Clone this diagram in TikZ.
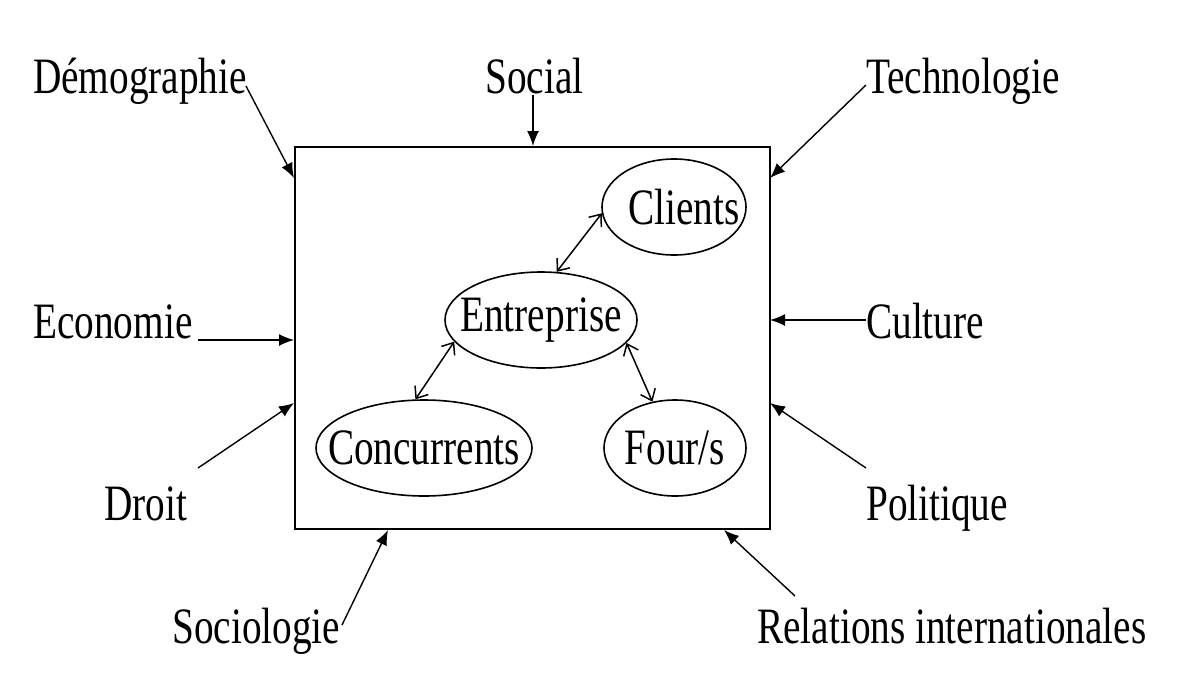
\documentclass[tikz,border=0pt]{standalone}
\usepackage{fontspec}
\setmainfont{Liberation Serif}[FakeStretch=0.77]
\usetikzlibrary{shapes.geometric,arrows.meta}
\begin{document}
\begin{tikzpicture}[x=1pt,y=-1pt,
  lbl/.style={inner sep=0pt,anchor=base west,font=\fontsize{51}{60}\selectfont},
  ell/.style={draw,line width=1.6pt,ellipse,inner xsep=-30pt,inner ysep=0pt,font=\fontsize{51}{60}\selectfont},
  inarrow/.style={-{Latex[length=15pt,width=12pt]},line width=1.4pt},
  dbl/.style={{Straight Barb[length=10pt,width=16pt,line width=1.5pt]}-{Straight Barb[length=10pt,width=16pt,line width=1.5pt]},line width=1.5pt}]
\useasboundingbox (0,0) rectangle (1200,675);
% box
\node[draw,line width=1.8pt,minimum width=475pt,minimum height=382pt,inner sep=0pt,anchor=north west] (box) at (294,146) {};
% labels
\node[lbl] (demo) at (33,93) {Démographie};
\node[lbl] (soc) at (485,93) {Social};
\node[lbl] (tech) at (866,93) {Technologie};
\node[lbl] (eco) at (33,338) {Economie};
\node[lbl] (cul) at (866,338) {Culture};
\node[lbl] (droit) at (104,520) {Droit};
\node[lbl] (pol) at (866,520) {Politique};
\node[lbl] (sociol) at (172,643) {Sociologie};
\node[lbl] (rel) at (757,643) {Relations internationales};
% arrow coordinates
\coordinate (s1) at (246,86);  \coordinate (e1) at (294,178);
\coordinate (s2) at (533,95);  \coordinate (e2) at (533,146);
\coordinate (s3) at (866,85);  \coordinate (e3) at (770,178);
\coordinate (s4) at (198,340); \coordinate (e4) at (294,340);
\coordinate (s5) at (866,320); \coordinate (e5) at (770,320);
\coordinate (s6) at (198,468); \coordinate (e6) at (294,403);
\coordinate (s7) at (866,468); \coordinate (e7) at (770,403);
\coordinate (s8) at (342,625); \coordinate (e8) at (388,530);
\coordinate (s9) at (795,596); \coordinate (e9) at (724,530);
\foreach \i in {1,...,9} {\draw[inarrow] (s\i) -- (e\i);}
% ellipses
\node[ell,minimum width=144pt,minimum height=96pt] (cli) at (674,207) {\hspace*{20pt}Clients};
\node[ell,minimum width=192pt,minimum height=96pt] (ent) at (541,320) {Entreprise};
\node[ell,minimum width=216pt,minimum height=96pt] (conc) at (424,448) {Concurrents};
\node[ell,minimum width=142pt,minimum height=96pt] (four) at (675,448) {Four/s};
\draw[dbl] (ent.72) -- (cli.185);
\draw[dbl] (ent.194) -- (conc.100);
\draw[dbl] (ent.345) -- (four.116);
\end{tikzpicture}
\end{document}
